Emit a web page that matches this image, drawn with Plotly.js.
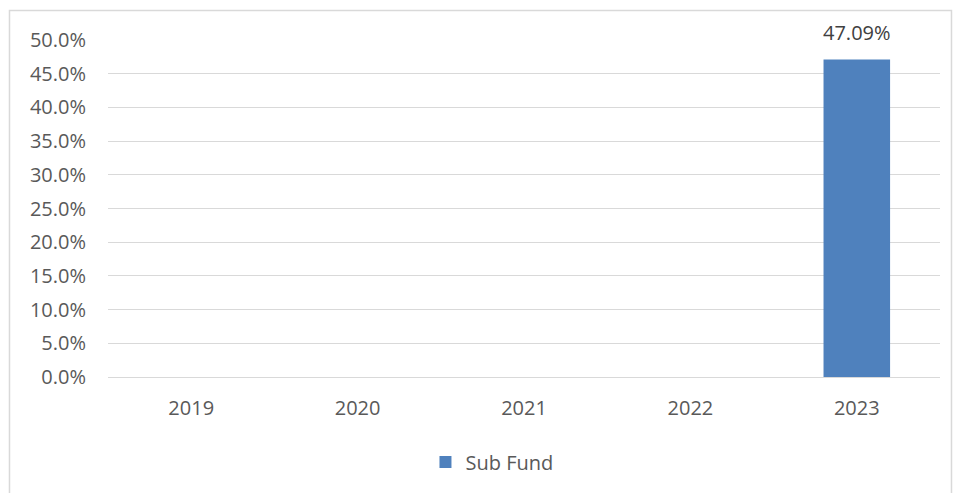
<!DOCTYPE html>
<html>
<head>
<meta charset="utf-8">
<script src="https://cdn.plot.ly/plotly-3.0.1.min.js"></script>
<style>html,body{margin:0;padding:0;background:#fff;}#chart{width:953px;height:493px;}</style>
</head>
<body>
<div id="chart"></div>
<script>
const years = ['2019', '2020', '2021', '2022', '2023'];
const subFund = [0, 0, 0, 0, 0.4709];
const seriesName = 'Sub Fund';
const yTickVals = [0, 0.05, 0.10, 0.15, 0.20, 0.25, 0.30, 0.35, 0.40, 0.45, 0.50];

const fontFam = '"Open Sans", "Noto Sans", sans-serif';
const fs = 20;

const trace = {
  type: 'bar',
  x: years,
  y: subFund,
  name: seriesName,
  marker: {color: '#4f81bd', line: {width: 0}},
  hoverinfo: 'skip'
};

const annotations = [];
years.forEach((yr, i) => {
  if (subFund[i] > 0) {
    annotations.push({
      x: i, y: subFund[i], xref: 'x', yref: 'y',
      text: (subFund[i] * 100).toFixed(2) + '%',
      showarrow: false, xanchor: 'center', yanchor: 'bottom', yshift: 12,
      font: {family: fontFam, size: fs, color: '#404040'}
    });
  }
});

const layout = {
  width: 953, height: 493,
  margin: {l: 108, r: 13, t: 40, b: 116},
  paper_bgcolor: '#ffffff', plot_bgcolor: '#ffffff',
  showlegend: true,
  bargap: 0.6,
  font: {family: fontFam, size: fs, color: '#595959'},
  xaxis: {
    type: 'category', categoryorder: 'array', categoryarray: years,
    range: [-0.5, years.length - 0.5],
    showgrid: false, zeroline: false, showline: false,
    ticks: '', ticklabelstandoff: 17,
    tickfont: {family: fontFam, size: fs, color: '#595959'}
  },
  yaxis: {
    range: [0, 0.5], tickvals: yTickVals, tickformat: '.1%',
    showgrid: true, gridcolor: '#d9d9d9', gridwidth: 1,
    zeroline: true, zerolinecolor: '#d9d9d9', zerolinewidth: 1,
    showline: false, ticks: '', ticklabelstandoff: 21,
    tickfont: {family: fontFam, size: fs, color: '#595959'}
  },
  legend: {
    orientation: 'h', x: 0.4615, xanchor: 'center', y: -0.252, yanchor: 'middle',
    itemwidth: 30,
    font: {family: fontFam, size: fs, color: '#595959'}
  },
  annotations: annotations,
  shapes: [{
    type: 'rect', xref: 'paper', yref: 'paper',
    x0: -0.1184, x1: 1.0138, y0: -0.4, y1: 1.0875,
    line: {color: '#d9d9d9', width: 1.5}, fillcolor: 'rgba(0,0,0,0)', layer: 'below'
  }]
};

Plotly.newPlot('chart', [trace], layout, {displayModeBar: false, staticPlot: true});
</script>
</body>
</html>
